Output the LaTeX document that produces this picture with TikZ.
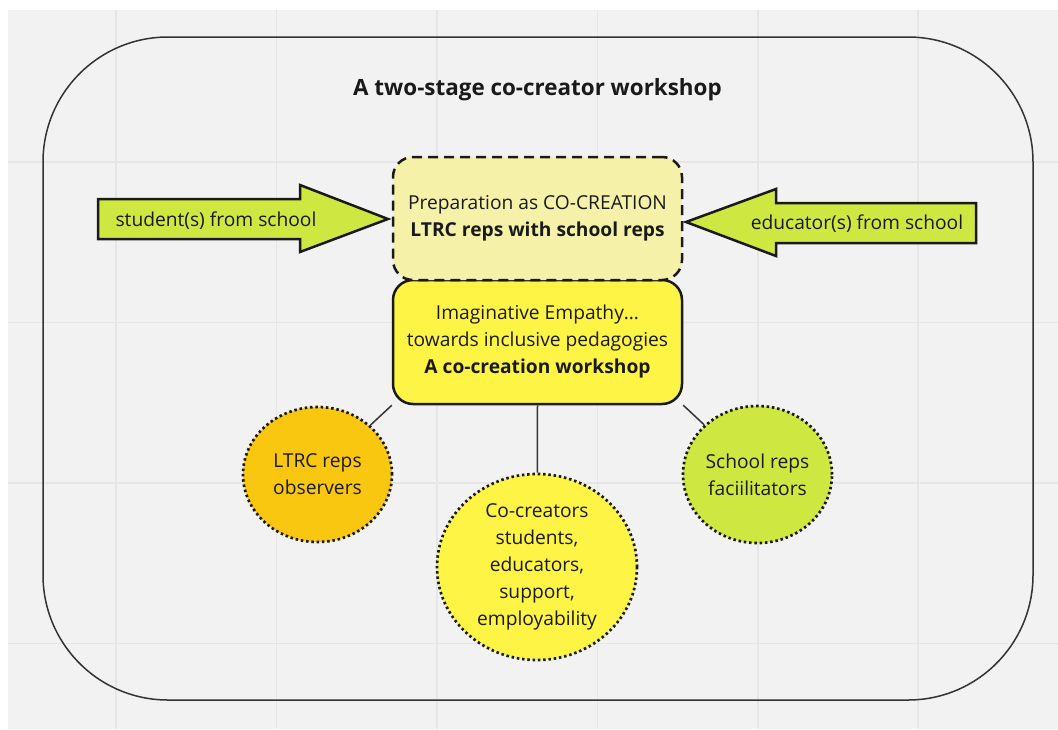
\documentclass[tikz,border=0pt]{standalone}
\usepackage{fontspec}
\setmainfont{Open Sans}
\usetikzlibrary{shapes.geometric,backgrounds}

\definecolor{boardgray}{HTML}{F2F2F2}
\definecolor{gridgray}{HTML}{E6E6E6}
\definecolor{ink}{HTML}{1A1A1A}
\definecolor{framegray}{HTML}{333333}
\definecolor{prepyellow}{HTML}{F6F1A9}
\definecolor{stickyyellow}{HTML}{FEF445}
\definecolor{stickyorange}{HTML}{FAC710}
\definecolor{stickylime}{HTML}{CEE741}

\begin{document}
\begin{tikzpicture}[x=1pt, y=-1pt, font=\fontsize{19.2}{27}\selectfont, text=ink]
    \tikzstyle{box}=[rectangle, rounded corners=20pt, minimum width=289pt, align=center, draw=ink, line width=2.5pt]
    \tikzstyle{main box}=[box, fill=stickyyellow, minimum height=124pt]
    \tikzstyle{prep box}=[box, fill=prepyellow, dash pattern=on 10pt off 6pt, minimum height=123pt]
    \tikzstyle{role}=[ellipse, draw=ink, line width=2.7pt, dash pattern=on 2.5pt off 2.8pt, align=center, inner sep=0pt]
    \tikzstyle{block arrow}=[fill=stickylime, draw=ink, line width=2.5pt, line join=miter]
    \tikzstyle{link}=[draw=framegray, line width=1.5pt]
    \tikzstyle{grid line}=[draw=gridgray, line width=1.2pt]

    \useasboundingbox (0,0) rectangle (1058,729);

    \node[font=\fontsize{22.4}{27}\selectfont\bfseries] (title) at (537.5,89.5) {A two-stage co-creator workshop};

    \node[main box] (main) at (537.5,342) {Imaginative Empathy…\\towards inclusive pedagogies\\\textbf{A co-creation workshop}};
    \node[prep box] (prep) at (537.5,218.5) {Preparation as CO-CREATION\\\textbf{LTRC reps with school reps}};

    \draw[block arrow] (98,199) -- (300,199) -- (300,185) -- (388,219) -- (300,252) -- (300,239) -- (98,239) -- cycle;
    \node (student) at (216,221) {student(s) from school};
    \draw[block arrow] (976,203) -- (776,203) -- (776,189) -- (686,222) -- (776,256) -- (776,243) -- (976,243) -- cycle;
    \node (educator) at (857,224) {educator(s) from school};

    \node[role, fill=stickyorange, minimum width=149pt, minimum height=135pt] (ltrc) at (317.5,474.5) {LTRC reps\\observers};
    \node[role, fill=stickyyellow, minimum width=200pt, minimum height=186pt] (co) at (537,567) {Co-creators\\students,\\educators,\\support,\\employability};
    \node[role, fill=stickylime, minimum width=149pt, minimum height=137pt] (school) at (757.5,474.5) {School reps\\faciilitators};

    \begin{scope}[on background layer]
        \fill[white] (0,0) rectangle (1058,729);
        \fill[boardgray] (8,10) rectangle (1058,729);
        \foreach \x in {116,276.5,437,597.5,758,918}
            \draw[grid line] (\x,10) -- (\x,729);
        \foreach \y in {162,322.5,483,643.5}
            \draw[grid line] (8,\y) -- (1058,\y);
        \draw[framegray, line width=1.5pt, rounded corners=125pt] (43,37) rectangle (1033,700);

        \path[link] (main.south west) -- (ltrc);
        \path[link] (main.south) -- (co);
        \path[link] (main.south east) -- (school);
    \end{scope}
\end{tikzpicture}
\end{document}
